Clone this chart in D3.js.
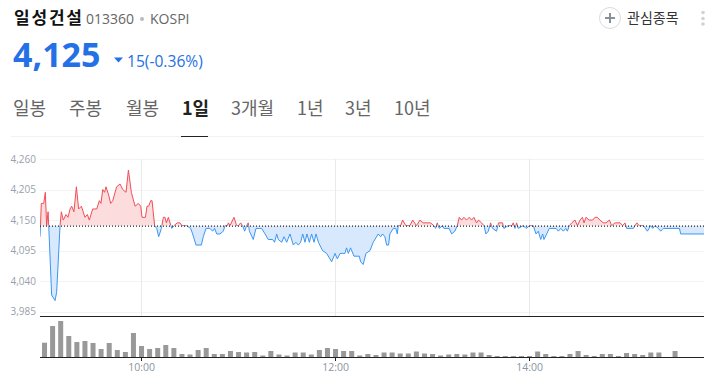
<!DOCTYPE html>
<html><head><meta charset="utf-8">
<script src="https://cdn.jsdelivr.net/npm/d3@7/dist/d3.min.js"></script>
<style>html,body{margin:0;padding:0;background:#fff;overflow:hidden}svg{display:block}text{font-family:"Noto Sans CJK KR","Noto Sans",sans-serif}</style>
</head><body><svg id="c" width="718" height="377"></svg>
<script>
const minutes=[-2.8,-2.5,-2,-0.5,0.5,1.3,2.2,2.6,4.4,6.5,7.5,9.6,10.4,11.6,13.3,14.5,15.8,16.8,18.2,19.7,21.1,22.8,25,26.5,27.7,29.8,32.3,33.9,34.9,36,37.2,38,39.7,40.9,42.2,44.6,46.7,48.4,50.4,51.9,53.7,56,58,59.5,60.3,62.4,63.4,64.4,65.7,66.5,68.1,69.4,70.6,72.3,73.5,74.5,75.4,76.6,78.7,80.1,82.1,83.8,85,87.9,90.4,91.6,93.7,97,98.2,99.9,102.3,104,105.2,106.5,108.5,110.6,111.6,113.1,113.7,114.7,117.2,118.8,120,121.3,122.5,123.8,125,126,126.7,129.1,130.8,132.9,134.3,136.4,138.4,141.1,142.3,143.6,144.6,146.7,148.1,149.8,151.8,153.9,155.5,157,158.4,159.7,161.1,162.3,163.8,165.2,166.7,167.9,169.4,172,174.5,177.6,179.7,181.1,182.8,184.4,185.8,186.8,187.9,189.3,191.4,194.7,195.5,197.1,198.8,201.3,203.3,206.4,207.9,209.1,210.5,211.6,212.8,213.6,215.7,217.3,218.2,218.8,220.2,221.5,223.5,226,227.7,230.1,232.2,234.2,238.8,240.8,241.9,242.9,244.1,246.2,247,250.3,251.8,253.8,255.3,256.5,258,259.4,261,262.7,264.1,265.6,267.2,268.5,270.3,271.8,273,274.5,275.9,277.1,279.6,280.8,283.3,284.1,286.8,289.1,289.9,291,292,293,296.1,297.8,300.2,302.3,304,305.4,306.9,308.1,308.9,310.6,312.2,316.4,317.8,319.3,320.9,322.4,323.4,324.6,326.1,328.1,329.6,331.2,332.7,333.7,334.9,336.8,339,340.5,341.9,343.6,345.6,347.3,349.4,350.8,352.9,356,357.6,359,360.1,363.2,364.2,366.3,367.9,370.4,372.9,374.9,376.2,377.6,379.7,381.1,382.8,392.7,393.5,407.9];
const prices=[4120,4140,4180,4180,4200,4140,4165,4140,4015,4005,4020,4140,4165,4150,4160,4155,4170,4175,4165,4210,4170,4175,4155,4160,4150,4170,4170,4185,4180,4205,4200,4210,4195,4180,4185,4210,4215,4205,4200,4240,4200,4175,4180,4175,4155,4155,4175,4175,4185,4185,4140,4135,4120,4135,4155,4155,4145,4155,4135,4140,4145,4145,4140,4140,4135,4125,4105,4105,4120,4135,4135,4130,4135,4125,4125,4130,4140,4140,4145,4140,4155,4140,4140,4145,4140,4130,4140,4145,4130,4115,4135,4135,4135,4125,4115,4115,4110,4125,4115,4110,4120,4110,4125,4105,4110,4105,4110,4125,4110,4125,4110,4125,4110,4125,4110,4095,4090,4075,4090,4080,4090,4090,4090,4100,4090,4100,4085,4085,4075,4070,4090,4095,4110,4125,4120,4125,4120,4105,4105,4125,4135,4135,4125,4140,4140,4150,4140,4140,4150,4140,4150,4145,4145,4140,4135,4145,4135,4140,4135,4135,4125,4130,4140,4155,4150,4155,4150,4155,4150,4155,4145,4150,4145,4140,4125,4130,4145,4135,4130,4145,4145,4135,4140,4140,4145,4135,4145,4135,4140,4135,4140,4140,4125,4130,4115,4125,4115,4125,4135,4135,4130,4135,4130,4135,4130,4140,4145,4150,4140,4150,4155,4145,4155,4150,4150,4155,4155,4150,4145,4145,4150,4140,4145,4145,4140,4145,4135,4135,4135,4145,4140,4140,4130,4140,4135,4140,4135,4130,4135,4135,4125,4125];
const volumes=[14.3,31,36,21,15,16,14,8,14,7,5,24,11,8,9,12,9,3,2.5,7,9,3,3,6,5,4.5,5,1.5,6,2.5,1.5,4.5,4.5,2.5,7,9,8,6,6,1.5,3,2,4.5,4.5,3.5,3.5,5.5,3.5,3,1.5,2.5,3,2.5,4.5,4.5,2,1,1,1,1,1,5.5,3,1,1,3,6,2,1,3,3,1,4,3,2,4.5,4.5,0,6];
const prevClose=4140;
const yTicks=[4260,4205,4150,4095,4040,3985];
const xTicks=[{m:60,l:"10:00"},{m:180,l:"12:00"},{m:300,l:"14:00"}];
const tabs=["일봉","주봉","월봉","1일","3개월","1년","3년","10년"];
const tabLeft=[13,69,126,182,231,297,345,394];

const svg=d3.select("#c");
const L=40,R=704;
const x=d3.scaleLinear().domain([-2.8,407.9]).range([L,R]);
const y=d3.scaleLinear().domain([3985,4260]).range([311.7,159]);
const vy=d3.scaleLinear().domain([0,36]).range([357,321]);
const pts=minutes.map((m,i)=>({m,p:prices[i]}));
const base=y(prevClose);

// header
const T=(s,px,py,size,fill,weight)=>svg.append("text").attr("x",px).attr("y",py).attr("font-size",size).attr("fill",fill).attr("font-weight",weight||400).text(s);
T("일성건설",14,24,17,"#111",700).attr("textLength",68);
T("013360",86,24,14,"#666").style("font-family","'Open Sans'");
svg.append("circle").attr("cx",142).attr("cy",19).attr("r",2).attr("fill","#bbb");
T("KOSPI",150,24,14,"#666").style("font-family","'Open Sans'");
T("4,125",13,67,34,"#2470e6",700).style("font-family","'Noto Sans'");
svg.append("path").attr("d","M114 57.5h9l-4.5 5z").attr("fill","#2470e6");
T("15(-0.36%)",127,67,15.6,"#2470e6").style("font-family","'Open Sans'");
svg.append("circle").attr("cx",610).attr("cy",18).attr("r",10.5).attr("fill","#fff").attr("stroke","#d8dbdf");
svg.append("path").attr("d","M605 18h10M610 13v10").attr("stroke","#87919c").attr("stroke-width",2);
T("관심종목",627,23,14,"#333");
[12.5,18.5,24].forEach(c=>svg.append("circle").attr("cx",703).attr("cy",c).attr("r",1.8).attr("fill","#cfd2d6"));
tabs.forEach((t,i)=>T(t,tabLeft[i],115,18,i==3?"#222":"#666",i==3?700:400));
svg.append("rect").attr("x",11).attr("y",136).attr("width",693).attr("height",1).attr("fill","#f2f2f2");
svg.append("rect").attr("x",181).attr("y",136).attr("width",27).attr("height",1).attr("fill","#222");

// grid
svg.append("g").selectAll("line").data(yTicks).join("line")
 .attr("x1",L).attr("x2",R).attr("y1",d=>Math.round(y(d))+.5).attr("y2",d=>Math.round(y(d))+.5).attr("stroke","#f3f3f3");
svg.append("g").selectAll("line").data(xTicks).join("line")
 .attr("x1",d=>Math.floor(x(d.m))+.5).attr("x2",d=>Math.floor(x(d.m))+.5).attr("y1",159).attr("y2",316).attr("stroke","#e9e9e9");
svg.append("g").selectAll("text").data(yTicks).join("text").attr("x",36).attr("y",d=>y(d)+3.5).attr("text-anchor","end")
 .attr("font-size",10).attr("fill","#98a1ab").style("font-family","'Open Sans'").text(d3.format(","));

// clips
const defs=svg.append("defs");
defs.append("clipPath").attr("id","up").append("rect").attr("x",L).attr("y",150).attr("width",R-L).attr("height",base-150);
defs.append("clipPath").attr("id","dn").append("rect").attr("x",L).attr("y",base).attr("width",R-L).attr("height",316-base);
const area=d3.area().x(d=>x(d.m)).y0(base).y1(d=>y(d.p));
const line=d3.line().x(d=>x(d.m)).y(d=>y(d.p));
[["up","#fcdcdc","#ee4f57"],["dn","#d9e9fd","#3b96f2"]].forEach(([id,fill,stroke])=>{
  const g=svg.append("g").attr("clip-path",`url(#${id})`);
  g.append("path").datum(pts).attr("d",area).attr("fill",fill);
  g.append("path").datum(pts).attr("d",line).attr("fill","none").attr("stroke",stroke).attr("stroke-width",1);
});
svg.append("line").attr("x1",L).attr("x2",R).attr("y1",base+.5).attr("y2",base+.5).attr("stroke","#222").attr("stroke-width",1.2).attr("stroke-dasharray","1 2");

// volume
svg.append("line").attr("x1",L).attr("x2",R).attr("y1",316.5).attr("y2",316.5).attr("stroke","#222");
svg.append("g").selectAll("rect").data(volumes).join("rect")
 .attr("x",(d,i)=>x(i*5)-2.5).attr("width",5).attr("y",d=>vy(d)).attr("height",d=>vy(0)-vy(d)).attr("fill","#999");
svg.append("line").attr("x1",L).attr("x2",R).attr("y1",357.5).attr("y2",357.5).attr("stroke","#222");
svg.append("g").selectAll("line").data(xTicks).join("line")
 .attr("x1",d=>Math.floor(x(d.m))+.5).attr("x2",d=>Math.floor(x(d.m))+.5).attr("y1",358).attr("y2",361).attr("stroke","#222");
svg.append("g").selectAll("text").data(xTicks).join("text").attr("x",d=>x(d.m)).attr("y",371).attr("text-anchor","middle")
 .attr("font-size",10.5).attr("fill","#8a94a0").style("font-family","'Open Sans'").text(d=>d.l);
</script></body></html>
